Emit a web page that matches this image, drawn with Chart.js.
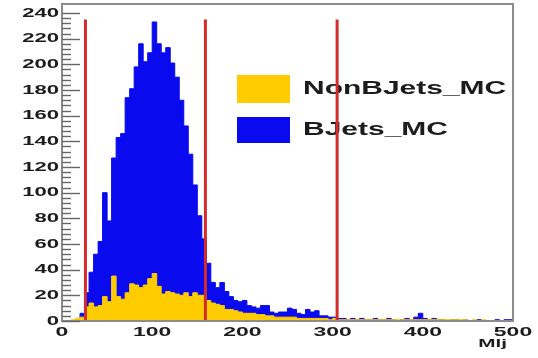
<!DOCTYPE html>
<html>
<head>
<meta charset="utf-8">
<script src="https://cdn.jsdelivr.net/npm/chart.js@4.4.1/dist/chart.umd.min.js"></script>
<style>
    html, body { margin: 0; padding: 0; background: #ffffff; }
    canvas { display: block; }
</style>
</head>
<body>
<canvas id="mljChart" width="538" height="358"></canvas>
<script>
"use strict";

// Mlj histograms, 100 bins of width 5 from 0 to 500
const binWidth = 5;

const nonBJetsMC = [
    0, 0, 1, 2, 3, 11, 14, 11, 12, 19,
    15, 35, 19, 17, 22, 29, 28, 26, 28, 33,
    37, 27, 21, 23, 22, 21, 20, 22, 19, 22,
    20, 20, 16, 14, 13, 12, 9, 9, 8, 7,
    6, 6, 6, 5, 5, 4, 4, 3, 3, 3,
    3, 3, 2, 2, 2, 2, 2, 2, 2, 1,
    2, 1, 1, 1, 1, 1, 1, 1, 1, 1,
    1, 1, 1, 1, 1, 1, 1, 1, 1, 1,
    1, 1, 1, 1, 1, 1, 1, 1, 1, 1,
    0, 1, 0, 1, 0, 0, 0, 0, 0, 0
];

const bJetsMC = [
    0, 0, 0, 1, 6, 22, 38, 52, 62, 100,
    78, 127, 143, 146, 174, 181, 198, 216, 202, 209,
    233, 216, 209, 213, 201, 190, 172, 152, 130, 106,
    82, 64, 45, 30, 26, 30, 23, 19, 16, 15,
    16, 12, 11, 10, 12, 12, 7, 6, 7, 7,
    10, 9, 6, 5, 9, 7, 8, 4, 4, 3,
    3, 2, 2, 1, 2, 1, 2, 1, 1, 2,
    1, 1, 2, 1, 0, 1, 2, 1, 3, 6,
    2, 1, 2, 1, 1, 0, 1, 1, 0, 1,
    0, 0, 1, 0, 0, 0, 1, 0, 1, 1
];

// vertical cut lines on Mlj
const cutPositions = [26, 159, 305];
const cutTop = 235;

const xTickLabels = [0, 100, 200, 300, 400, 500];
const yTickLabels = [0, 20, 40, 60, 80, 100, 120, 140, 160, 180, 200, 220, 240];
const yMinorStep = 4;
const xTitle = "Mlj";

const legendLabels = ["NonBJets_MC", "BJets_MC"];

const colors = {
    nonB: "#ffcc00",
    bJets: "#0a0aee",
    cut: "#d42c2c",
    frame: "#8c8c8c",
    tick: "#666666",
    text: "#1c1c1c"
};

const fontFamily = "'Liberation Sans', Arial, sans-serif";
const textStretch = 1.7;

function histogramPoints(values) {
    const points = values.map((value, i) => ({ x: i * binWidth, y: value }));
    points.push({ x: values.length * binWidth, y: values[values.length - 1] });
    return points;
}

function histogramDataset(label, values, color) {
    return {
        label,
        data: histogramPoints(values),
        stepped: true,
        fill: "origin",
        backgroundColor: color,
        borderColor: color,
        borderWidth: 1,
        pointRadius: 0,
        tension: 0,
        order: 0
    };
}

function cutDataset(position) {
    return {
        label: "cut",
        data: [{ x: position, y: 0 }, { x: position, y: cutTop }],
        borderColor: colors.cut,
        borderWidth: 3,
        borderCapStyle: "butt",
        pointRadius: 0,
        fill: false,
        order: -1
    };
}

// stretched bold text, like the wide axis fonts
function drawText(ctx, text, x, y, size, align, stretch) {
    ctx.save();
    ctx.font = "bold " + size + "px " + fontFamily;
    ctx.fillStyle = colors.text;
    ctx.textAlign = align;
    ctx.textBaseline = "middle";
    ctx.translate(x, y);
    ctx.scale(stretch, 1);
    ctx.fillText(text, 0, 0);
    ctx.restore();
}

const legendPlugin = {
    id: "histLegend",
    beforeDatasetsDraw(chart) {
        const ctx = chart.ctx;
        const swatches = [colors.nonB, colors.bJets];
        const rows = [{ top: 75, height: 28, textY: 89 }, { top: 117, height: 26, textY: 130 }];

        rows.forEach((row, i) => {
            ctx.fillStyle = swatches[i];
            ctx.fillRect(237, row.top, 53, row.height);
            drawText(ctx, legendLabels[i], 303, row.textY, 18.5, "left", 1.62);
        });
    }
};

const axesPlugin = {
    id: "histAxes",
    afterDatasetsDraw(chart) {
        const ctx = chart.ctx;
        const area = chart.chartArea;
        const xScale = chart.scales.x;
        const yScale = chart.scales.y;

        // frame
        ctx.save();
        ctx.strokeStyle = colors.frame;
        ctx.lineWidth = 2;
        ctx.strokeRect(area.left, area.top, area.right - area.left, area.bottom - area.top);

        // inward y ticks, major and minor
        ctx.strokeStyle = colors.tick;
        ctx.lineWidth = 1.4;
        const yMax = yTickLabels[yTickLabels.length - 1];
        for (let v = 0; v <= yMax; v += yMinorStep) {
            const y = Math.round(yScale.getPixelForValue(v)) + 0.5;
            const len = v % 20 === 0 ? 18 : 9;
            ctx.beginPath();
            ctx.moveTo(area.left, y);
            ctx.lineTo(area.left + len, y);
            ctx.stroke();
        }
        ctx.restore();

        for (const v of yTickLabels) {
            drawText(ctx, String(v), area.left - 3, yScale.getPixelForValue(v), 13, "right", textStretch);
        }

        for (const v of xTickLabels) {
            drawText(ctx, String(v), xScale.getPixelForValue(v), area.bottom + 11, 13.5, "center", textStretch);
        }

        drawText(ctx, xTitle, 507, 344, 11.5, "right", 1.8);
    }
};

const chart = new Chart(document.getElementById("mljChart"), {
    type: "line",
    data: {
        datasets: [
            histogramDataset(legendLabels[0], nonBJetsMC, colors.nonB),
            histogramDataset(legendLabels[1], bJetsMC, colors.bJets),
            ...cutPositions.map(cutDataset)
        ]
    },
    options: {
        responsive: false,
        animation: false,
        devicePixelRatio: 1,
        layout: {
            padding: { left: 62, top: 4, right: 25, bottom: 37 }
        },
        scales: {
            x: { type: "linear", min: 0, max: 500, display: false },
            y: { type: "linear", min: 0, max: 247, display: false }
        },
        plugins: {
            legend: { display: false },
            tooltip: { enabled: false }
        }
    },
    plugins: [legendPlugin, axesPlugin]
});
</script>
</body>
</html>
